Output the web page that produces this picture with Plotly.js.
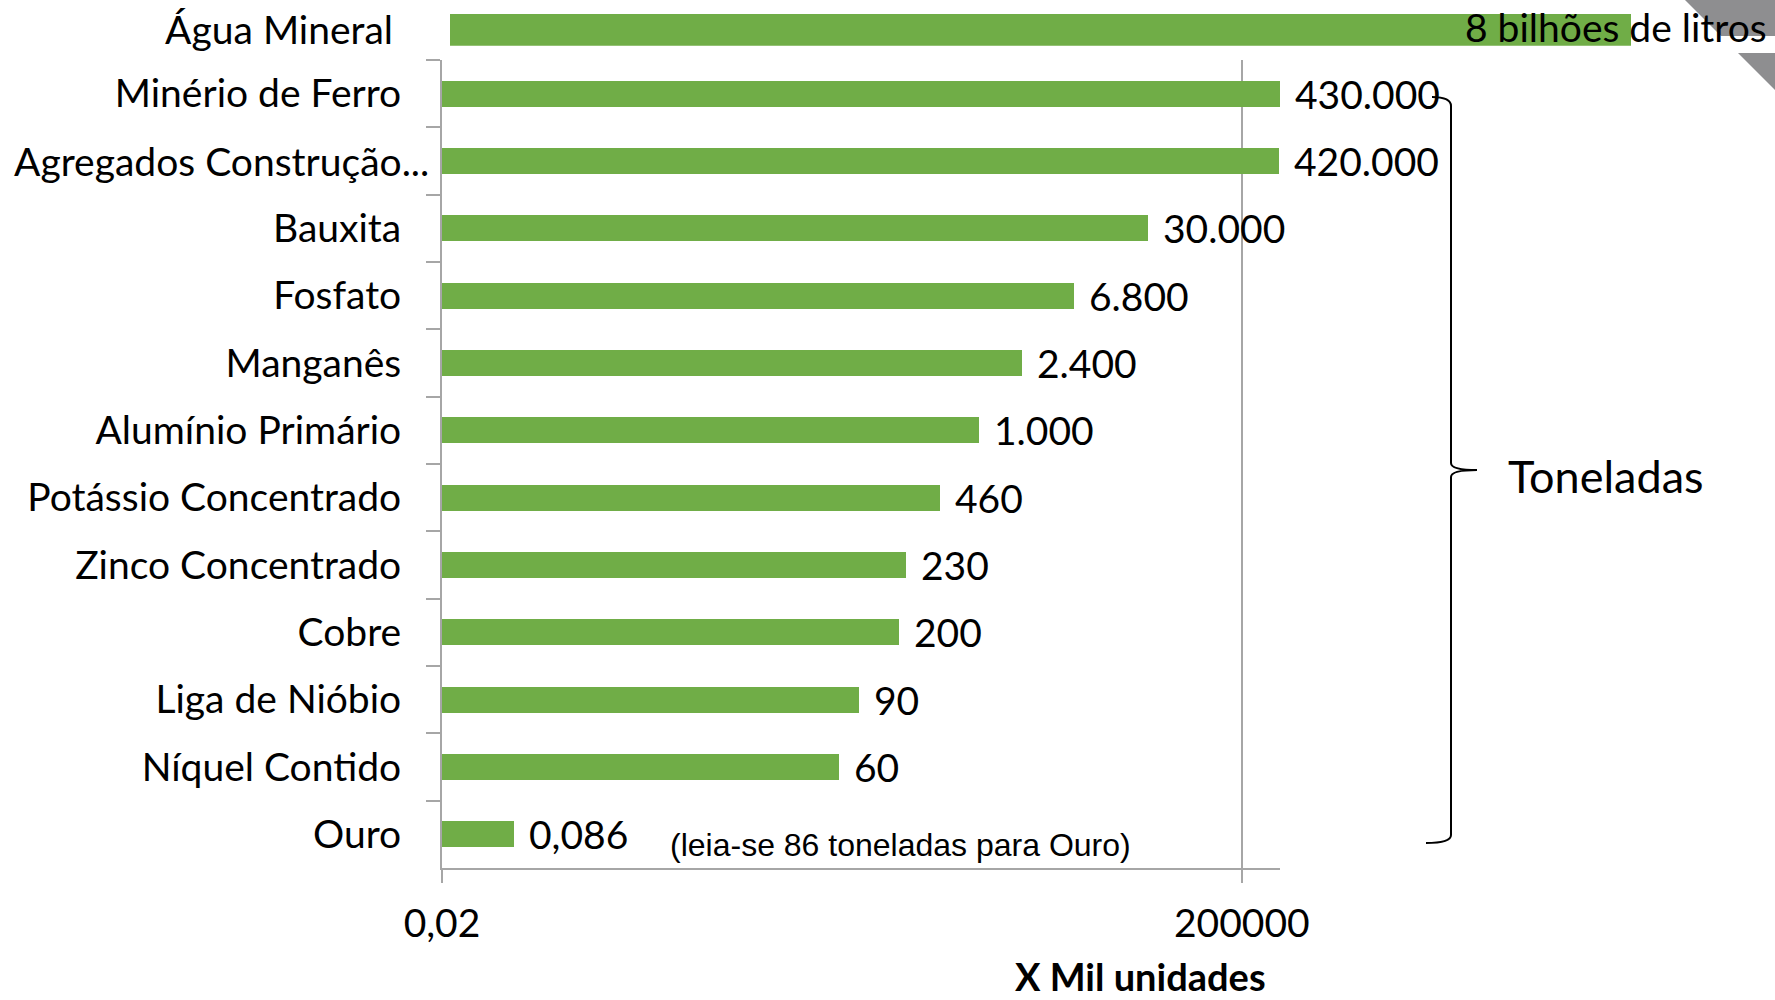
<!DOCTYPE html>
<html>
<head>
<meta charset="utf-8">
<script src="https://cdn.plot.ly/plotly-3.0.1.min.js"></script>
<style>html,body{margin:0;padding:0;background:#fff;}#chart{width:1775px;height:1000px;}</style>
</head>
<body>
<div id="chart"></div>
<script>
// ---- data ----
const categories = ["Minério de Ferro", "Agregados Construção...", "Bauxita", "Fosfato", "Manganês",
  "Alumínio Primário", "Potássio Concentrado", "Zinco Concentrado", "Cobre", "Liga de Nióbio",
  "Níquel Contido", "Ouro"];
const values = [430000, 420000, 30000, 6800, 2400, 1000, 460, 230, 200, 90, 60, 0.086];
const valueLabels = ["430.000", "420.000", "30.000", "6.800", "2.400", "1.000", "460", "230", "200", "90", "60", "0,086"];
const aguaCategory = ["Água Mineral"];
const aguaValue = [8];
const aguaLabel = "8 bilhões de litros";
const xTickVals = [0.02, 200000];
const xTickText = ["0,02", "200000"];
const xTitle = "X Mil unidades";
const braceLabel = "Toneladas";
const noteText = "(leia-se 86 toneladas para Ouro)";

// ---- helpers ----
const W = 1775, H = 1000;
const px = v => v / W;
const py = v => 1 - v / H;
const FONT = "Lato, 'Open Sans', sans-serif";
const GREEN = "#70AD47";
const AXIS = "#a6a6a6";
const LONG_CAT = categories[1]; // drawn closer to the axis, as in the reference

const traces = [
  {
    type: "bar", orientation: "h",
    x: values, y: categories,
    marker: {color: GREEN},
    width: 0.39,
    hoverinfo: "x+y",
    xaxis: "x", yaxis: "y"
  },
  {
    type: "bar", orientation: "h",
    x: aguaValue, y: aguaCategory,
    marker: {color: GREEN},
    width: 1,
    hoverinfo: "x+y",
    xaxis: "x2", yaxis: "y2"
  }
];

const annotations = categories.map((c, i) => ({
  x: Math.log10(values[i]), y: c, xref: "x", yref: "y",
  text: valueLabels[i], showarrow: false, xanchor: "left", yanchor: "middle",
  xshift: 13, font: {family: FONT, size: 39, color: "#000"}
}));
annotations.push(
  {x: px(431), y: LONG_CAT, xref: "paper", yref: "y", text: LONG_CAT, showarrow: false,
   xanchor: "right", yanchor: "middle", font: {family: FONT, size: 39, color: "#000"}},
  {x: px(1769), y: py(27), xref: "paper", yref: "paper", text: aguaLabel, showarrow: false,
   xanchor: "right", yanchor: "middle", font: {family: FONT, size: 39, color: "#000"}},
  {x: px(1506), y: py(476), xref: "paper", yref: "paper", text: braceLabel, showarrow: false,
   xanchor: "left", yanchor: "middle", font: {family: FONT, size: 45, color: "#000"}},
  {x: px(668), y: py(845), xref: "paper", yref: "paper", text: noteText, showarrow: false,
   xanchor: "left", yanchor: "middle", font: {family: "'Liberation Sans Narrow', 'Liberation Sans', Arial, sans-serif", size: 32, color: "#000"}},
  {x: px(1140), y: 0, xref: "paper", yref: "paper", text: "<b>" + xTitle + "</b>", showarrow: false,
   xanchor: "center", yanchor: "bottom", borderpad: 0, font: {family: FONT, size: 38, color: "#000"}}
);

// brace path in pixel coordinates, converted to paper
const bracePts = [
  ["M", 1432, 97], ["Q", 1451, 97, 1451, 106], ["L", 1451, 463], ["Q", 1451, 470, 1477, 470],
  ["Q", 1451, 470, 1451, 477], ["L", 1451, 835], ["Q", 1451, 843, 1426, 843]
];
const bracePath = bracePts.map(s => {
  const cmd = s[0]; const nums = s.slice(1);
  const out = [];
  for (let k = 0; k < nums.length; k += 2) out.push(px(nums[k]) + "," + py(nums[k + 1]));
  return cmd + out.join(" ");
}).join(" ");

const poly = pts => "M" + pts.map(p => px(p[0]) + "," + py(p[1])).join(" L") + " Z";

const shapes = [
  {type: "path", xref: "paper", yref: "paper", path: poly([[1685, 0], [1775, 0], [1775, 36], [1721, 36]]),
   fillcolor: "#8e8e90", line: {width: 0}, layer: "below"},
  {type: "path", xref: "paper", yref: "paper", path: poly([[1738, 53], [1775, 53], [1775, 90]]),
   fillcolor: "#8e8e90", line: {width: 0}, layer: "below"},
  {type: "path", xref: "paper", yref: "paper", path: bracePath, line: {color: "#000", width: 2}}
];

const aliases = {};
aliases[LONG_CAT] = " ";

const layout = {
  width: W, height: H,
  margin: {l: 0, r: 0, t: 0, b: 0, pad: 0},
  paper_bgcolor: "#fff", plot_bgcolor: "rgba(0,0,0,0)",
  showlegend: false,
  font: {family: FONT, color: "#000"},
  xaxis: {
    domain: [px(442), px(1280)], anchor: "y",
    type: "log", range: [Math.log10(0.02), Math.log10(432000)],
    tickvals: xTickVals, ticktext: xTickText,
    ticks: "outside", ticklen: 13, tickwidth: 2, tickcolor: AXIS,
    showline: true, linecolor: AXIS, linewidth: 2,
    showgrid: true, gridcolor: AXIS, gridwidth: 1.5, zeroline: false,
    tickfont: {family: FONT, size: 39, color: "#000"},
    ticklabelstandoff: 7, fixedrange: true
  },
  yaxis: {
    domain: [py(868), py(60)], anchor: "x",
    type: "category", categoryarray: categories, categoryorder: "array",
    autorange: "reversed",
    tickson: "boundaries", ticks: "outside", ticklen: 14, tickwidth: 2, tickcolor: AXIS,
    showline: true, linecolor: AXIS, linewidth: 2, showgrid: false, zeroline: false,
    tickfont: {family: FONT, size: 39, color: "#000"},
    labelalias: aliases,
    ticklabelstandoff: 31, fixedrange: true
  },
  xaxis2: {
    domain: [px(450), px(1631)], anchor: "y2", range: [0, aguaValue[0]],
    showgrid: false, showline: false, zeroline: false, showticklabels: false, ticks: "", fixedrange: true
  },
  yaxis2: {
    domain: [py(45.7), py(14)], anchor: "x2", type: "category", range: [-0.5, 0.5],
    showgrid: false, showline: false, zeroline: false, ticks: "",
    tickfont: {family: FONT, size: 39, color: "#000"},
    ticklabelstandoff: 56, fixedrange: true
  },
  annotations: annotations,
  shapes: shapes,
  bargap: 0
};

Plotly.newPlot("chart", traces, layout, {displayModeBar: false, staticPlot: true});
</script>
</body>
</html>
